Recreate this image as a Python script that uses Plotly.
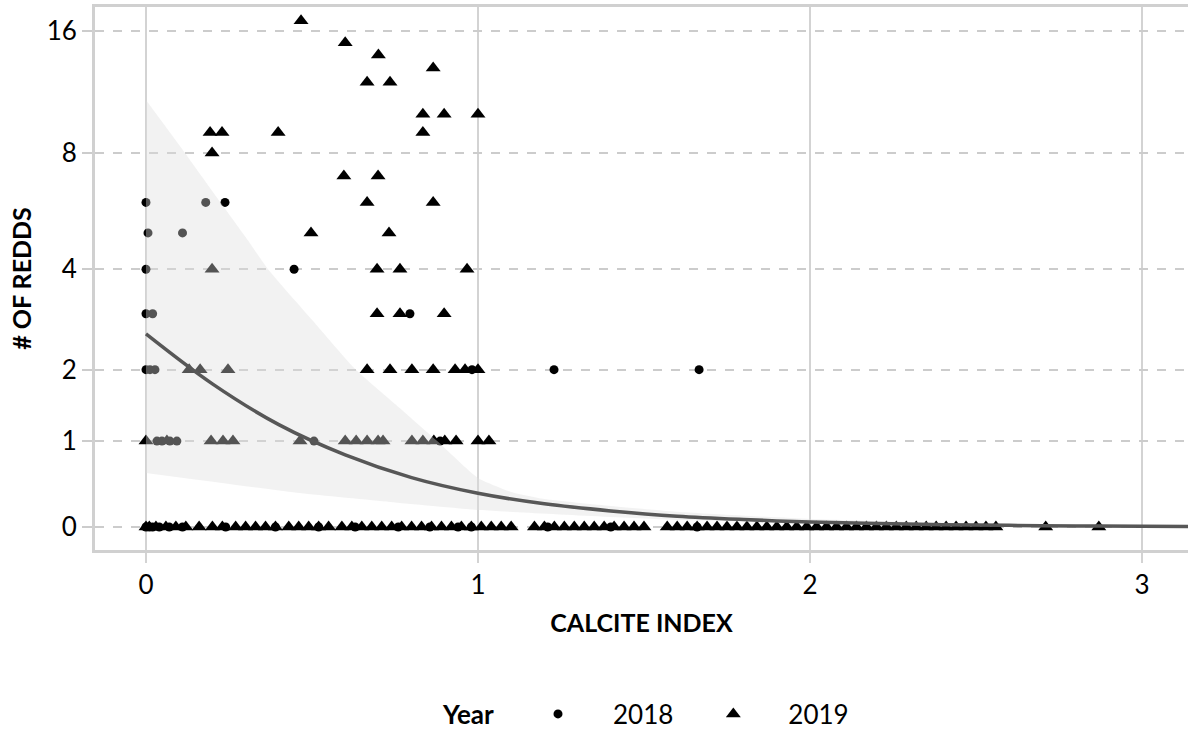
import numpy as np
import plotly.graph_objects as go

# ---------------- data (original units) ----------------
# 2018 (circles)
x18 = [0.0, 0.18, 0.238, 0.006, 0.11, 0.0, 0.446, 0.0, 0.02, 0.795,
       0.0, 0.012, 0.027, 0.982, 1.229, 1.666,
       0.033, 0.048, 0.072, 0.093, 0.506, 0.886,
       0.0, 0.01, 0.02, 0.04, 0.07, 0.11, 0.24, 0.39, 0.52, 0.63, 0.76,
       0.855, 0.94, 0.98, 1.21, 1.40, 1.66]
y18 = [6, 6, 6, 5, 5, 4, 4, 3, 3, 3,
       2, 2, 2, 2, 2, 2,
       1, 1, 1, 1, 1, 1,
       0, 0, 0, 0, 0, 0, 0, 0, 0, 0, 0,
       0, 0, 0, 0, 0, 0]

# 2019 (triangles), non-zero counts
x19_pos = [0.467, 0.6, 0.7, 0.865, 0.666, 0.735, 0.834, 0.898, 1.0,
           0.193, 0.229, 0.398, 0.834, 0.199, 0.596, 0.699, 0.666, 0.865,
           0.497, 0.732, 0.199, 0.696, 0.765, 0.967, 0.696, 0.765, 0.898,
           0.13, 0.163, 0.247, 0.666, 0.735, 0.801, 0.865, 0.931, 0.961, 1.0,
           0.0, 0.063, 0.196, 0.232, 0.262, 0.464, 0.6, 0.633, 0.666, 0.699,
           0.714, 0.801, 0.834, 0.867, 0.9, 0.934, 1.0, 1.033]
y19_pos = [17, 15, 14, 13, 12, 12, 10, 10, 10,
           9, 9, 9, 9, 8, 7, 7, 6, 6,
           5, 5, 4, 4, 4, 4, 3, 3, 3,
           2, 2, 2, 2, 2, 2, 2, 2, 2, 2,
           1, 1, 1, 1, 1, 1, 1, 1, 1, 1,
           1, 1, 1, 1, 1, 1, 1, 1]
# 2019 zero counts
x19_zero = [0.00, 0.01, 0.03, 0.06, 0.09, 0.12, 0.16, 0.20, 0.23, 0.27, 0.30,
            0.33, 0.36, 0.39, 0.43, 0.46, 0.49, 0.52, 0.55, 0.59, 0.62, 0.65,
            0.68, 0.71, 0.74, 0.77, 0.80, 0.83, 0.86, 0.89, 0.92, 0.95, 0.98,
            1.01, 1.04, 1.07, 1.10,
            1.17, 1.20, 1.23, 1.26, 1.29, 1.32, 1.35, 1.38, 1.41, 1.44, 1.47, 1.50,
            1.57, 1.60, 1.63, 1.66, 1.69, 1.72, 1.75, 1.78, 1.81, 1.84, 1.87, 1.90,
            1.93, 1.96, 1.99, 2.02, 2.05, 2.08, 2.11, 2.14, 2.17, 2.20, 2.23, 2.26,
            2.29, 2.32, 2.35, 2.38, 2.41, 2.44, 2.47, 2.50, 2.53, 2.56,
            2.71, 2.87]

# fitted curve
fit_x = [0, 0.2, 0.4, 0.6, 0.8, 1.0, 1.2, 1.4, 1.6, 1.8, 2.0, 2.2, 2.4, 2.6, 2.8, 3.0, 3.14]
fit_y = [2.61, 1.78, 1.21, 0.83, 0.56, 0.38, 0.26, 0.18, 0.12, 0.083, 0.056,
         0.038, 0.026, 0.018, 0.012, 0.008, 0.006]

# confidence band
upper_x = [0.0, 0.1, 0.2, 0.3, 0.367, 0.5, 0.63, 0.765, 0.877, 1.0, 1.10, 1.20,
           1.40, 1.608, 2.0, 2.57, 3.14]
upper_y = [10.85, 8.38, 6.41, 4.88, 4.01, 2.88, 2.01, 1.43, 1.00, 0.556, 0.395,
           0.315, 0.236, 0.168, 0.09, 0.034, 0.011]
lower_x = [0.0, 0.464, 0.735, 1.006, 1.608, 2.0, 2.57, 3.14]
lower_y = [0.614, 0.382, 0.281, 0.19, 0.078, 0.045, 0.017, 0.006]

y_ticks = [0, 1, 2, 4, 8, 16]
x_ticks = [0, 1, 2, 3]


def tr(v):
    # pseudo-log scale: asinh(y/2)
    return np.arcsinh(np.asarray(v, dtype=float) / 2.0)


FONT = "Lato"
fig = go.Figure()

x19 = x19_pos + x19_zero
y19 = y19_pos + [0] * len(x19_zero)

fig.add_trace(go.Scatter(x=x18, y=tr(y18), mode="markers", name="2018",
                         marker=dict(symbol="circle", size=9, color="black"),
                         legendrank=1))
fig.add_trace(go.Scatter(x=x19, y=tr(y19), mode="markers", name="2019",
                         marker=dict(symbol="triangle-up", size=13, color="black"),
                         legendrank=2))

band_x = list(upper_x) + list(lower_x[::-1])
band_y = list(tr(upper_y)) + list(tr(lower_y[::-1]))
fig.add_trace(go.Scatter(x=band_x, y=band_y, mode="lines", fill="toself",
                         fillcolor="rgba(221,221,221,0.38)",
                         line=dict(width=0, shape="spline", smoothing=0.5),
                         showlegend=False, hoverinfo="skip"))

fig.add_trace(go.Scatter(x=fit_x, y=tr(fit_y), mode="lines",
                         line=dict(color="#575757", width=3.5, shape="spline"),
                         showlegend=False))

fig.update_layout(
    width=1188, height=729,
    paper_bgcolor="white", plot_bgcolor="white",
    margin=dict(l=95, r=0, t=7, b=179, autoexpand=False),
    font=dict(family=FONT, size=26, color="black"),
    legend=dict(orientation="h", x=0.5 + 6 / 1093, xanchor="center",
                yref="container", y=1 - 714 / 729, yanchor="middle",
                title=dict(text="<b>Year</b>", font=dict(size=26)),
                font=dict(size=26), itemwidth=100),
)

fig.update_xaxes(
    range=[-0.1536, 3.1386], tickvals=x_ticks, ticktext=[str(v) for v in x_ticks],
    showgrid=True, gridcolor="#d3d3d3", gridwidth=1.5, zeroline=False,
    showline=True, linecolor="#d0d0d0", linewidth=3, mirror=True,
    ticks="outside", ticklen=10, tickcolor="#d3d3d3", tickwidth=1.5,
    ticklabelstandoff=0, automargin=False,
    title=dict(text="<b>CALCITE INDEX</b>", standoff=16, font=dict(size=25)),
)
fig.update_yaxes(
    range=[-0.129, 2.913], tickvals=list(tr(y_ticks)), ticktext=[str(v) for v in y_ticks],
    showgrid=True, gridcolor="#cccccc", gridwidth=1.5, griddash="dash", zeroline=False,
    showline=True, linecolor="#d0d0d0", linewidth=3, mirror=True,
    ticks="outside", ticklen=10, tickcolor="#cccccc", tickwidth=1.5,
    ticklabelstandoff=0, automargin=False,
    title=dict(text="<b># OF REDDS</b>", standoff=8, font=dict(size=25)),
)

fig.write_html("out.html", config={"displayModeBar": False},
               post_script="document.body.style.margin='0px';")
